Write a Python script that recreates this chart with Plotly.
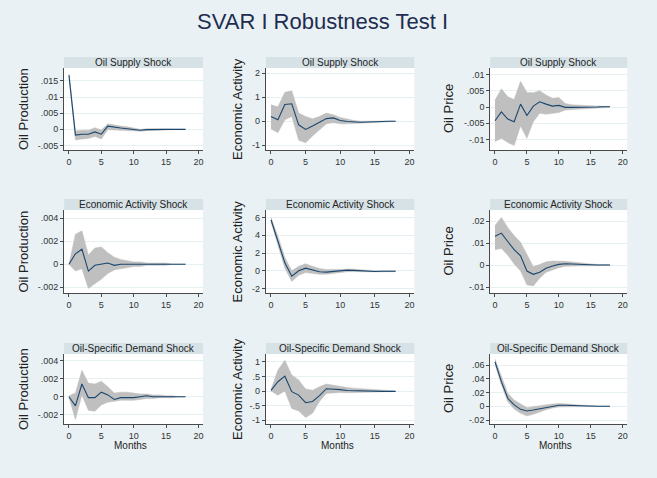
import plotly.graph_objects as go

horizon = list(range(19))

# Row 1: Oil Supply Shock
os_prod_irf = [0.0168, -0.0018, -0.0015, -0.0015, -0.0008, -0.0015, 0.0010, 0.0006, 0.0004, 0.0002, 0.0000, -0.0003, -0.0001, 0.0000, 0.0000, 0.0000, 0.0000, 0.0000, 0.0000]
os_prod_lo = [0.0163, -0.0033, -0.0030, -0.0028, -0.0022, -0.0030, -0.0001, -0.0002, -0.0003, -0.0004, -0.0005, -0.0006, -0.0004, -0.0003, -0.0002, -0.0001, -0.0001, -0.0001, 0.0000]
os_prod_hi = [0.0173, -0.0005, -0.0003, -0.0003, 0.0005, -0.0002, 0.0017, 0.0013, 0.0010, 0.0008, 0.0005, 0.0000, 0.0002, 0.0002, 0.0001, 0.0001, 0.0001, 0.0001, 0.0000]

os_act_irf = [0.20, 0.06, 0.70, 0.73, -0.15, -0.34, -0.20, -0.05, 0.11, 0.14, 0.03, -0.01, -0.04, -0.04, -0.03, -0.01, 0.00, 0.00, 0.00]
os_act_lo = [-0.32, -0.48, 0.06, 0.20, -0.79, -0.90, -0.62, -0.37, -0.11, -0.06, -0.11, -0.11, -0.10, -0.08, -0.06, -0.04, -0.03, -0.02, -0.01]
os_act_hi = [0.69, 0.60, 1.21, 1.27, 0.34, 0.20, 0.10, 0.20, 0.34, 0.27, 0.16, 0.08, 0.03, 0.00, 0.00, 0.01, 0.02, 0.02, 0.01]

os_price_irf = [-0.0042, -0.0015, -0.0037, -0.0045, 0.0009, -0.0026, 0.0003, 0.0016, 0.0009, 0.0003, 0.0005, -0.0001, -0.0001, -0.0001, -0.0002, -0.0002, 0.0000, 0.0001, 0.0001]
os_price_lo = [-0.0106, -0.0096, -0.0109, -0.0118, -0.0058, -0.0096, -0.0045, -0.0019, -0.0022, -0.0019, -0.0017, -0.0009, -0.0008, -0.0006, -0.0005, -0.0004, -0.0003, -0.0002, -0.0001]
os_price_hi = [0.0021, 0.0056, 0.0032, 0.0023, 0.0079, 0.0045, 0.0044, 0.0050, 0.0037, 0.0027, 0.0029, 0.0011, 0.0007, 0.0005, 0.0005, 0.0004, 0.0003, 0.0003, 0.0002]

# Row 2: Economic Activity Shock
ea_prod_irf = [0.0000, 0.0009, 0.0013, -0.0006, -0.0001, 0.0000, 0.0001, -0.0001, 0.0000, 0.0000, 0.0000, 0.0000, 0.0000, 0.0000, 0.0000, 0.0000, 0.0000, 0.0000, 0.0000]
ea_prod_lo = [0.0000, -0.0006, -0.0004, -0.0021, -0.0017, -0.0013, -0.0008, -0.0005, -0.0004, -0.0003, -0.0002, -0.0002, -0.0001, -0.0001, -0.0001, -0.0001, 0.0000, 0.0000, 0.0000]
ea_prod_hi = [0.0000, 0.0026, 0.0029, 0.0008, 0.0014, 0.0015, 0.0010, 0.0006, 0.0004, 0.0003, 0.0002, 0.0002, 0.0001, 0.0001, 0.0001, 0.0001, 0.0000, 0.0000, 0.0000]

ea_act_irf = [5.75, 3.40, 0.90, -0.60, 0.00, 0.30, 0.10, -0.10, -0.15, -0.08, 0.05, 0.08, 0.05, 0.00, -0.06, -0.08, -0.05, -0.02, -0.05]
ea_act_lo = [5.50, 2.90, 0.30, -1.20, -0.50, -0.20, -0.30, -0.40, -0.40, -0.30, -0.15, -0.10, -0.10, -0.12, -0.15, -0.15, -0.12, -0.10, -0.10]
ea_act_hi = [6.00, 3.90, 1.50, 0.00, 0.50, 0.80, 0.50, 0.25, 0.15, 0.15, 0.20, 0.22, 0.18, 0.12, 0.05, 0.02, 0.02, 0.05, 0.00]

ea_price_irf = [0.0131, 0.0145, 0.0107, 0.0070, 0.0042, -0.0027, -0.0042, -0.0033, -0.0015, -0.0004, 0.0003, 0.0006, 0.0005, 0.0003, 0.0002, 0.0001, 0.0000, 0.0000, 0.0000]
ea_price_lo = [0.0070, 0.0075, 0.0045, 0.0005, -0.0027, -0.0090, -0.0095, -0.0060, -0.0033, -0.0022, -0.0012, -0.0006, -0.0004, -0.0004, -0.0004, -0.0003, -0.0002, -0.0001, -0.0001]
ea_price_hi = [0.0180, 0.0216, 0.0170, 0.0134, 0.0104, 0.0045, -0.0008, 0.0003, 0.0015, 0.0018, 0.0018, 0.0017, 0.0014, 0.0010, 0.0007, 0.0005, 0.0003, 0.0002, 0.0001]

# Row 3: Oil-Specific Demand Shock
od_prod_irf = [0.0000, -0.0010, 0.0014, -0.0001, -0.0001, 0.0005, 0.0002, -0.0003, -0.0001, -0.0001, -0.0001, 0.0000, 0.0001, 0.0000, 0.0000, 0.0000, 0.0000, 0.0000, 0.0000]
od_prod_lo = [-0.0001, -0.0025, 0.0002, -0.0015, -0.0016, -0.0009, -0.0006, -0.0005, -0.0004, -0.0004, -0.0004, -0.0003, -0.0002, -0.0002, -0.0001, -0.0001, -0.0001, 0.0000, 0.0000]
od_prod_hi = [0.0001, 0.0004, 0.0029, 0.0015, 0.0014, 0.0017, 0.0011, 0.0004, 0.0005, 0.0005, 0.0004, 0.0003, 0.0003, 0.0002, 0.0002, 0.0001, 0.0001, 0.0000, 0.0000]

od_act_irf = [0.02, 0.32, 0.51, -0.02, -0.14, -0.40, -0.36, -0.16, 0.08, 0.07, 0.05, 0.02, 0.01, 0.00, 0.00, 0.00, -0.01, -0.01, -0.01]
od_act_lo = [0.00, -0.14, 0.00, -0.60, -0.68, -0.91, -0.76, -0.36, -0.08, -0.06, -0.05, -0.06, -0.05, -0.05, -0.04, -0.03, -0.03, -0.02, -0.02]
od_act_hi = [0.05, 0.72, 1.06, 0.55, 0.38, 0.07, 0.03, 0.15, 0.24, 0.20, 0.15, 0.12, 0.10, 0.08, 0.06, 0.04, 0.02, 0.01, 0.00]

od_price_irf = [0.0650, 0.0360, 0.0117, 0.0020, -0.0044, -0.0068, -0.0054, -0.0034, -0.0015, 0.0005, 0.0015, 0.0015, 0.0010, 0.0005, 0.0000, 0.0000, 0.0000, 0.0000, 0.0000]
od_price_lo = [0.0612, 0.0310, 0.0068, -0.0040, -0.0102, -0.0140, -0.0117, -0.0078, -0.0050, -0.0025, -0.0010, -0.0007, -0.0008, -0.0008, -0.0007, -0.0005, -0.0004, -0.0003, -0.0002]
od_price_hi = [0.0688, 0.0434, 0.0190, 0.0093, 0.0030, -0.0020, -0.0005, 0.0010, 0.0025, 0.0035, 0.0040, 0.0037, 0.0030, 0.0020, 0.0012, 0.0007, 0.0004, 0.0002, 0.0001]

shock_titles = ["Oil Supply Shock", "Economic Activity Shock", "Oil-Specific Demand Shock"]
response_titles = ["Oil Production", "Economic Activity", "Oil Price"]
x_ticks = [0, 5, 10, 15, 20]
x_title = "Months"

panels = [
    (os_prod_irf, os_prod_lo, os_prod_hi, [-0.0064, 0.019], [-0.005, 0, 0.005, 0.01, 0.015], ["-.005", "0", ".005", ".01", ".015"]),
    (os_act_irf, os_act_lo, os_act_hi, [-1.2, 2.22], [-1, 0, 1, 2], ["-1", "0", "1", "2"]),
    (os_price_irf, os_price_lo, os_price_hi, [-0.0132, 0.012], [-0.01, -0.005, 0, 0.005, 0.01], ["-.01", "-.005", "0", ".005", ".01"]),
    (ea_prod_irf, ea_prod_lo, ea_prod_hi, [-0.0025, 0.0047], [-0.002, 0, 0.002, 0.004], ["-.002", "0", ".002", ".004"]),
    (ea_act_irf, ea_act_lo, ea_act_hi, [-2.5, 6.85], [-2, 0, 2, 4, 6], ["-2", "0", "2", "4", "6"]),
    (ea_price_irf, ea_price_lo, ea_price_hi, [-0.0127, 0.025], [-0.01, 0, 0.01, 0.02], ["-.01", "0", ".01", ".02"]),
    (od_prod_irf, od_prod_lo, od_prod_hi, [-0.0030, 0.0047], [-0.002, 0, 0.002, 0.004], ["-.002", "0", ".002", ".004"]),
    (od_act_irf, od_act_lo, od_act_hi, [-1.13, 1.27], [-1, -0.5, 0, 0.5, 1], ["-1", "-.5", "0", ".5", "1"]),
    (od_price_irf, od_price_lo, od_price_hi, [-0.0258, 0.0763], [-0.02, 0, 0.02, 0.04, 0.06], ["-.02", "0", ".02", ".04", ".06"]),
]

W, H = 657, 478
FONT = "Liberation Sans, Arial, sans-serif"
BG = "#e9f1f4"
STRIP = "#d7e2e7"
BAND = "#bfbfbf"
LINE = "#1a476f"
AXIS = "#4a4a4a"

col_px = [(64.1, 203.0), (265.8, 414.3), (490.2, 627.2)]
row_px = [(68, 150), (210, 293), (354, 424)]
strip_h = 11
ytitle_x = [23, 237, 448]

fig = go.Figure()
layout = {}
annotations = []
shapes = []

for i, (irf, lo, hi, yr, yt, ytt) in enumerate(panels):
    r, c = divmod(i, 3)
    k = i + 1
    xa = "x" if k == 1 else f"x{k}"
    ya = "y" if k == 1 else f"y{k}"
    x0, x1 = col_px[c]
    top, bot = row_px[r]
    fig.add_trace(go.Scatter(x=horizon, y=lo, mode="lines", line=dict(width=0.5, color=BAND),
                             xaxis=xa, yaxis=ya, showlegend=False, hoverinfo="skip"))
    fig.add_trace(go.Scatter(x=horizon, y=hi, mode="lines", line=dict(width=0.5, color=BAND),
                             fill="tonexty", fillcolor=BAND,
                             xaxis=xa, yaxis=ya, showlegend=False, hoverinfo="skip"))
    fig.add_trace(go.Scatter(x=horizon, y=irf, mode="lines", line=dict(width=1.1, color=LINE),
                             xaxis=xa, yaxis=ya, showlegend=False))
    xkey = "xaxis" if k == 1 else f"xaxis{k}"
    ykey = "yaxis" if k == 1 else f"yaxis{k}"
    layout[xkey] = dict(domain=[x0 / W, x1 / W], anchor=ya, range=[-0.75, 20.7],
                        tickvals=x_ticks, ticktext=[str(v) for v in x_ticks],
                        showgrid=False, zeroline=False, showline=True, linecolor=AXIS, linewidth=1,
                        ticks="outside", ticklen=3, tickcolor=AXIS, tickwidth=1,
                        tickfont=dict(size=9, color="#333333", family=FONT))
    layout[ykey] = dict(domain=[1 - bot / H, 1 - top / H], anchor=xa, range=yr,
                        tickvals=yt, ticktext=ytt,
                        showgrid=True, gridcolor="#e6eff1", gridwidth=1, zeroline=False,
                        showline=True, linecolor=AXIS, linewidth=1,
                        ticks="outside", ticklen=3, tickcolor=AXIS, tickwidth=1,
                        tickfont=dict(size=9, color="#333333", family=FONT))
    # title strip
    shapes.append(dict(type="rect", xref="paper", yref="paper",
                       x0=x0 / W, x1=x1 / W, y0=1 - top / H, y1=1 - (top - strip_h) / H,
                       fillcolor=STRIP, line=dict(width=0), layer="below"))
    annotations.append(dict(text=shock_titles[r], xref="paper", yref="paper",
                            x=(x0 + x1) / 2 / W, y=1 - (top - strip_h / 2) / H,
                            showarrow=False, xanchor="center", yanchor="middle",
                            font=dict(size=10, color="#222222", family=FONT)))
    # y title
    annotations.append(dict(text=response_titles[c], xref="paper", yref="paper",
                            x=ytitle_x[c] / W, y=1 - (top + bot) / 2 / H, textangle=-90,
                            showarrow=False, xanchor="center", yanchor="middle",
                            font=dict(size=13, color="#222222", family=FONT)))
    if r == 2:
        annotations.append(dict(text=x_title, xref="paper", yref="paper",
                                x=(x0 + x1) / 2 / W - 3 / W, y=1 - 445 / H,
                                showarrow=False, xanchor="center", yanchor="middle",
                                font=dict(size=10, color="#222222", family=FONT)))

annotations.append(dict(text="SVAR I Robustness Test I", xref="paper", yref="paper",
                        x=322 / W, y=1 - 22 / H, showarrow=False, xanchor="center", yanchor="middle",
                        font=dict(size=22, color="#1e2d50", family=FONT)))

fig.update_layout(**layout)
fig.update_layout(width=W, height=H, margin=dict(l=0, r=0, t=0, b=0),
                  paper_bgcolor=BG, plot_bgcolor="white",
                  annotations=annotations, shapes=shapes, showlegend=False)

fig.write_html("out.html")
